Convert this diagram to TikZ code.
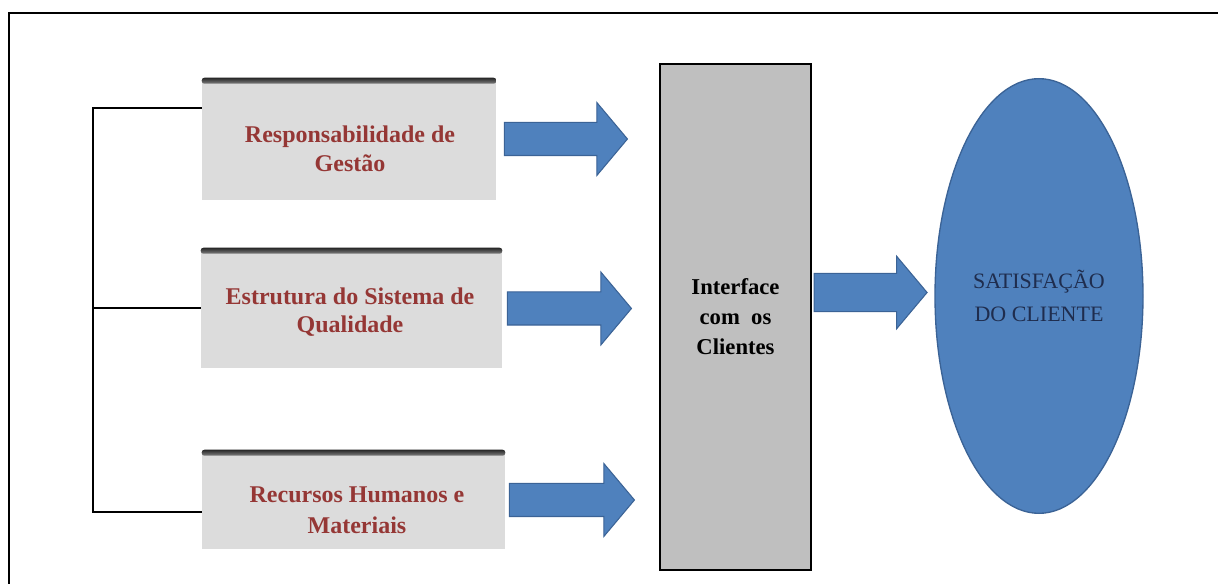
\documentclass[tikz,border=0pt]{standalone}
\usepackage{fontspec}
\setmainfont{Liberation Serif}
\usetikzlibrary{shapes.geometric,shapes.arrows}
\definecolor{boxgray}{HTML}{DCDCDC}
\definecolor{boxred}{HTML}{953735}
\definecolor{facegray}{HTML}{BFBFBF}
\definecolor{arrowblue}{HTML}{4F81BD}
\definecolor{arrowedge}{HTML}{3B6396}
\definecolor{navytext}{HTML}{1F2D4E}
\tikzset{
  gbox/.style={rectangle,fill=boxgray,inner sep=0pt},
  gtext/.style={align=center,text=boxred,inner sep=0pt,font=\fontsize{18pt}{21.5pt}\selectfont\bfseries},
  topbar/.style={top color=black!85,bottom color=black!50,rounded corners=2pt},
  blockarrow/.style={single arrow,fill=arrowblue,draw=arrowedge,line width=0.8pt,
    inner xsep=0pt,inner ysep=12pt,single arrow head extend=15pt,single arrow tip angle=100},
  link/.style={line width=1.5pt}
}
\begin{document}
\begin{tikzpicture}[x=0.75pt,y=-0.75pt]
  \useasboundingbox (0,0) rectangle (1218,584);
  \draw[line width=2pt] (9,584) -- (9,13) -- (1218,13);

  \node[gbox,minimum width=220.5pt,minimum height=91.5pt] (resp) at (349,139) {};
  \node[gbox,minimum width=225.75pt,minimum height=90pt] (estr) at (351.5,308) {};
  \node[gbox,minimum width=227.25pt,minimum height=74.25pt] (recu) at (353.5,499.5) {};
  \foreach \b in {resp,estr,recu}
    \shade[topbar] (\b.north west) rectangle ([yshift=-4.5pt]\b.north east);
  \node[gtext] (resp-t) at (350,149) {Responsabilidade de\\Gestão};
  \node[gtext] (estr-t) at (350,312) {Estrutura do Sistema de\\Qualidade};
  \node[gtext] (recu-t) at (357,510.5) {Recursos Humanos e\\[1.5pt]Materiais};

  \coordinate (top) at (93,108);
  \coordinate (bot) at (93,512);
  \draw[link] (resp.west |- top) -- (top) -- (bot) -- (recu.west |- bot);
  \draw[link] (estr.west) -- (estr.west -| top);

  \node[blockarrow,minimum height=92.25pt] (a1) at (559,139) {};
  \node[blockarrow,minimum height=93pt] (a2) at (562.5,308.5) {};
  \node[blockarrow,minimum height=93.75pt] (a3) at (565,500) {};

  \node[rectangle,fill=facegray,draw=black,line width=1.5pt,minimum width=113.25pt,minimum height=379.5pt,
    align=center,font=\fontsize{17pt}{22.5pt}\selectfont\bfseries] (face) at (735.5,317) {Interface\\com\ \ os\\Clientes};

  \node[blockarrow,minimum height=84.75pt,inner ysep=14pt,single arrow head extend=12.75pt] (a4) at (862.5,292.5) {};

  \node[ellipse,fill=arrowblue,draw=arrowedge,line width=1pt,inner sep=0pt,minimum width=156pt,minimum height=326pt,
    align=center,text=navytext,font=\fontsize{16.5pt}{24.75pt}\selectfont] (sat) at (1039,296) {SATISFAÇÃO\\DO CLIENTE};
\end{tikzpicture}
\end{document}
